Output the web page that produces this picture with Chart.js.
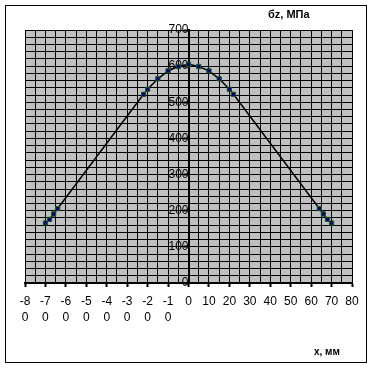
<!DOCTYPE html>
<html>
<head>
<meta charset="utf-8">
<script src="https://cdn.jsdelivr.net/npm/chart.js@4/dist/chart.umd.min.js"></script>
<style>
  html, body { margin: 0; padding: 0; background: #fff; }
  canvas { display: block; }
</style>
</head>
<body>
<canvas id="chart" width="374" height="369"></canvas>
<script>
// данные: x, мм и бz, МПа
const xValues = [-70, -68, -66, -64, -22, -20, -15, -10, -5, 0, 5, 10, 15, 20, 22, 64, 66, 68, 70];
const szValues = [166, 176, 191, 206, 522, 536, 565, 587, 599, 605, 599, 587, 565, 536, 522, 206, 191, 176, 166];

// подписи осей
const xTicks = [-80, -70, -60, -50, -40, -30, -20, -10, 0, 10, 20, 30, 40, 50, 60, 70, 80];
const xTickLabels = [['-8', '0'], ['-7', '0'], ['-6', '0'], ['-5', '0'], ['-4', '0'], ['-3', '0'], ['-2', '0'], ['-1', '0'],
    '0', '10', '20', '30', '40', '50', '60', '70', '80'];
const yTicks = [0, 100, 200, 300, 400, 500, 600, 700];
const yTickLabels = ['0', '100', '200', '300', '400', '500', '600', '700'];

const yTitle = 'бz, МПа';
const xTitle = 'x, мм';

const FONT = '"Liberation Sans", Arial, sans-serif';

// фон, рамка и подписи осей
const framePlugin = {
    id: 'frame',
    beforeDraw(chart) {
        const { ctx, chartArea: a } = chart;
        ctx.save();
        ctx.fillStyle = '#fff';
        ctx.fillRect(0, 0, chart.width, chart.height);
        ctx.fillStyle = '#c0c0c0';
        ctx.fillRect(a.left, a.top, a.right - a.left, a.bottom - a.top);
        ctx.restore();
    },
    afterDraw(chart) {
        const ctx = chart.ctx;
        ctx.save();
        ctx.strokeStyle = '#000';
        ctx.lineWidth = 1;
        ctx.strokeRect(5.5, 5.5, 361, 357);
        ctx.fillStyle = '#000';
        ctx.textBaseline = 'middle';
        ctx.textAlign = 'left';
        ctx.font = 'bold 11px ' + FONT;
        ctx.fillText(yTitle, 268, 15);
        ctx.font = 'bold 10px ' + FONT;
        ctx.fillText(xTitle, 314, 352);
        ctx.restore();
    }
};

const points = xValues.map((x, i) => ({ x: x, y: szValues[i] }));

// сетка без подписей (мелкий шаг)
const minorGrid = { color: '#000', lineWidth: 1, drawTicks: false };

new Chart(document.getElementById('chart'), {
    type: 'scatter',
    data: {
        datasets: [{
            data: points,
            showLine: true,
            borderColor: '#000',
            borderWidth: 1.5,
            pointStyle: 'rect',
            pointRadius: 3,
            pointBackgroundColor: '#000080',
            pointBorderColor: '#1b5e1b',
            pointBorderWidth: 1
        }]
    },
    options: {
        responsive: false,
        animation: false,
        layout: { padding: { left: 25, right: 22, top: 30, bottom: 0 } },
        plugins: {
            legend: { display: false },
            tooltip: { enabled: false }
        },
        scales: {
            x: {
                type: 'linear',
                position: 'bottom',
                min: -80,
                max: 80,
                afterFit: scale => { scale.height = 86; },
                grid: { color: '#000', lineWidth: 1, tickLength: 4, tickColor: '#000', tickWidth: 2 },
                border: { display: true, color: '#000', width: 2 },
                ticks: {
                    stepSize: 10,
                    autoSkip: false,
                    maxRotation: 0,
                    padding: 7,
                    color: '#000',
                    font: { family: FONT, size: 12, lineHeight: 1.3 },
                    callback: v => {
                        const i = xTicks.indexOf(v);
                        return i < 0 ? null : xTickLabels[i];
                    }
                }
            },
            xMinor: {
                type: 'linear',
                axis: 'x',
                position: 'bottom',
                min: -80,
                max: 80,
                afterFit: scale => { scale.height = 0; },
                grid: minorGrid,
                border: { display: false },
                ticks: { display: false, stepSize: 5, maxTicksLimit: 100 }
            },
            y: {
                type: 'linear',
                position: { x: 0 },
                min: 0,
                max: 700,
                afterFit: scale => { scale.width = 0; },
                grid: { color: '#000', lineWidth: 1, tickLength: 4, tickColor: '#000', tickWidth: 2 },
                border: { display: true, color: '#000', width: 2 },
                ticks: {
                    stepSize: 100,
                    autoSkip: false,
                    padding: 6,
                    color: '#000',
                    font: { family: FONT, size: 12 },
                    callback: v => {
                        const i = yTicks.indexOf(v);
                        return i < 0 ? null : yTickLabels[i];
                    }
                }
            },
            yMinor: {
                type: 'linear',
                axis: 'y',
                position: 'left',
                min: 0,
                max: 700,
                afterFit: scale => { scale.width = 0; },
                grid: minorGrid,
                border: { display: false },
                ticks: { display: false, stepSize: 20, maxTicksLimit: 100 }
            }
        }
    },
    plugins: [framePlugin]
});
</script>
</body>
</html>
